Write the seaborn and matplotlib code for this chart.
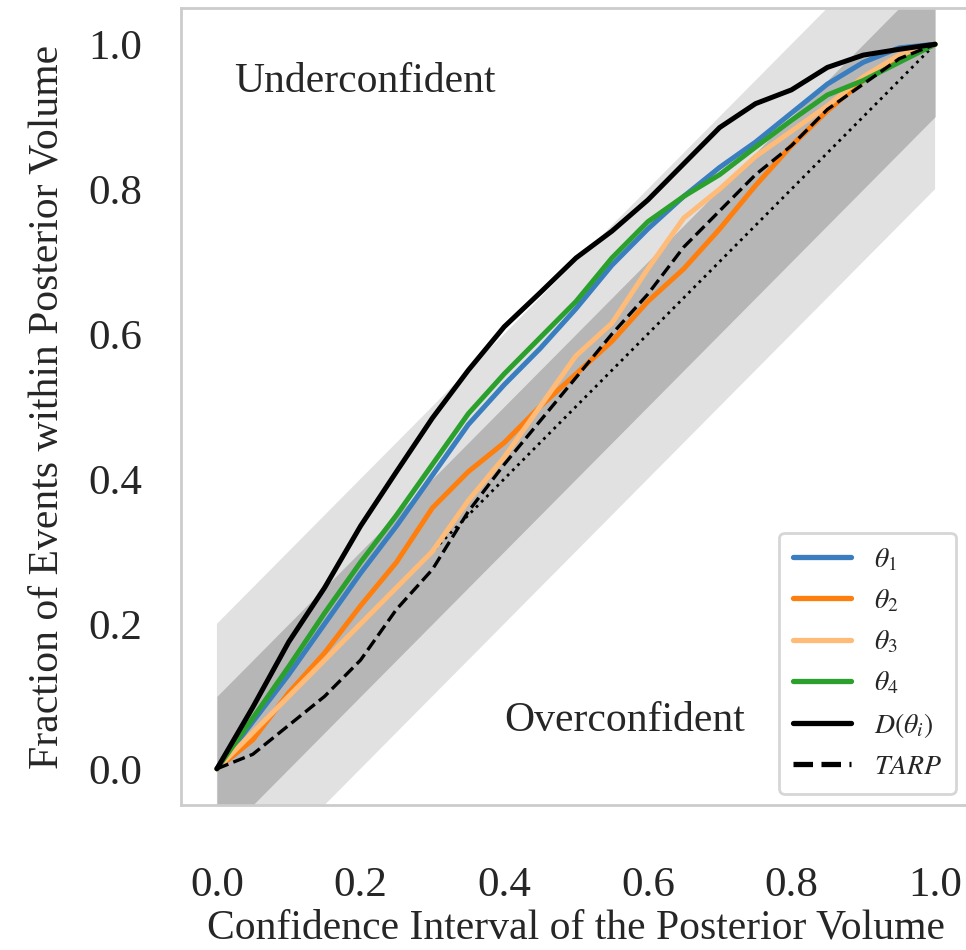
import numpy as np
import pandas as pd
import matplotlib
matplotlib.use("Agg")
import matplotlib.pyplot as plt
import seaborn as sns

conf = [0.0, 0.05, 0.1, 0.15, 0.2, 0.25, 0.3, 0.35, 0.4, 0.45, 0.5,
        0.55, 0.6, 0.65, 0.7, 0.75, 0.8, 0.85, 0.9, 0.95, 1.0]
theta1 = [0.0, 0.065, 0.13, 0.2, 0.27, 0.335, 0.405, 0.475, 0.53, 0.58, 0.635,
          0.695, 0.745, 0.79, 0.83, 0.865, 0.905, 0.945, 0.975, 0.995, 1.0]
theta2 = [0.0, 0.04, 0.105, 0.16, 0.225, 0.285, 0.36, 0.41, 0.45, 0.5, 0.545,
          0.59, 0.645, 0.69, 0.745, 0.805, 0.86, 0.908, 0.95, 0.98, 1.0]
theta3 = [0.0, 0.05, 0.1, 0.15, 0.2, 0.25, 0.3, 0.37, 0.43, 0.5, 0.57,
          0.615, 0.69, 0.76, 0.80, 0.845, 0.88, 0.915, 0.955, 0.985, 1.0]
theta4 = [0.0, 0.07, 0.141, 0.215, 0.285, 0.35, 0.42, 0.49, 0.545, 0.595, 0.645,
          0.705, 0.755, 0.79, 0.82, 0.858, 0.895, 0.93, 0.95, 0.975, 1.0]
d_theta = [0.0, 0.085, 0.175, 0.25, 0.335, 0.41, 0.484, 0.55, 0.61, 0.657, 0.705,
           0.742, 0.785, 0.835, 0.885, 0.918, 0.937, 0.968, 0.985, 0.993, 1.0]
tarp = [0.0, 0.02, 0.06, 0.1, 0.15, 0.22, 0.275, 0.355, 0.42, 0.48, 0.54,
        0.6, 0.655, 0.72, 0.77, 0.82, 0.86, 0.91, 0.945, 0.98, 1.0]

labels = [r"$\theta_1$", r"$\theta_2$", r"$\theta_3$", r"$\theta_4$", r"$D(\theta_i)$", r"$TARP$"]
ticks = [0.0, 0.2, 0.4, 0.6, 0.8, 1.0]
tick_labels = ["0.0", "0.2", "0.4", "0.6", "0.8", "1.0"]

sns.set_style("white")
plt.rcParams["font.family"] = ["Liberation Serif", "DejaVu Serif"]
plt.rcParams["mathtext.fontset"] = "stix"

fig = plt.figure(figsize=(9.66, 9.5), dpi=100)
ax = fig.add_axes([181 / 966, 145 / 950, 790 / 966, 797 / 950])

c = np.array(conf)
ax.fill_between(c, c - 0.2, c + 0.2, color="#e1e1e1", lw=0, zorder=0)
ax.fill_between(c, c - 0.1, c + 0.1, color="#b6b6b6", lw=0, zorder=0)
ax.plot(c, c, color="black", ls=":", lw=2, zorder=1)

series = [theta1, theta2, theta3, theta4, d_theta, tarp]
colors = ["#3a7ebf", "#ff7f0e", "#ffbb78", "#2ca02c", "black", "black"]
styles = ["-", "-", "-", "-", "-", "--"]
widths = [3.6, 3.6, 3.6, 3.6, 3.6, 2.4]
for ys, lab, col, ls, lw in zip(series, labels, colors, styles, widths):
    sns.lineplot(x=conf, y=ys, ax=ax, color=col, linestyle=ls, lw=lw, label=lab, zorder=3)

ax.set_xlim(-0.05, 1.05)
ax.set_ylim(-0.05, 1.05)
ax.set_xticks(ticks)
ax.set_xticklabels(tick_labels)
ax.set_yticks(ticks)
ax.set_yticklabels(tick_labels)
ax.tick_params(axis="x", labelsize=31, pad=44, length=0, colors=".15")
ax.tick_params(axis="y", labelsize=31, pad=28, length=0, colors=".15")
ax.set_xlabel("Confidence Interval of the Posterior Volume", fontsize=30, color=".15", labelpad=3)
ax.set_ylabel("Fraction of Events within Posterior Volume", fontsize=30, color=".15", labelpad=16)
for s in ax.spines.values():
    s.set_color("#cccccc")
    s.set_linewidth(2)

ax.text(0.024, 0.948, "Underconfident", fontsize=30, color=".15", va="center", ha="left")
ax.text(0.40, 0.066, "Overconfident", fontsize=30, color=".15", va="center", ha="left")

leg = ax.legend(loc="lower right", fontsize=20, frameon=True, fancybox=True,
                handlelength=2.1, borderpad=0.5, labelspacing=0.52,
                bbox_to_anchor=(0.998, -0.003))
leg.get_frame().set_edgecolor("#cccccc")
leg.get_frame().set_linewidth(2)
for line in leg.get_lines():
    line.set_linewidth(3.8)

fig.savefig("out.png", dpi=100)
